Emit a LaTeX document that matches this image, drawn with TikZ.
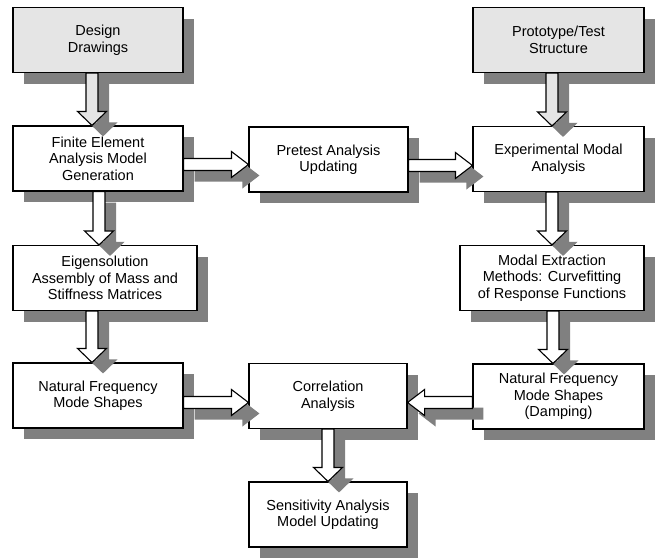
\documentclass[tikz,border=0pt]{standalone}
\usepackage{fontspec}
\setmainfont{Liberation Sans}
\usepackage{tikz}
\usetikzlibrary{calc, shadows}
\definecolor{shade}{gray}{0.5}
\definecolor{paper}{gray}{0.9}
\tikzstyle{block}=[draw, line width=1.1pt, fill=white, inner sep=0pt, minimum height=65pt, align=center, font=\fontsize{14.5}{16.5}\selectfont, drop shadow={shadow xshift=11pt, shadow yshift=-11pt, opacity=1, fill=shade}]
\tikzstyle{inblock}=[block, fill=paper]
\tikzstyle{flow}=[draw, line width=1.1pt, fill=white, drop shadow={shadow xshift=11pt, shadow yshift=-11pt, opacity=1, fill=shade}]
% block arrows between named boxes
\newcommand{\vflow}[4][white]{%
	\path[flow, fill=#1] let \p1=($(#3.north)+(#4,0)$), \p2=(#2.south) in
		(\x1-6pt,\y2) -- (\x1+6pt,\y2) -- (\x1+6pt,\y1+14pt) -- (\x1+14.5pt,\y1+14pt)
		-- (\x1,\y1) -- (\x1-14.5pt,\y1+14pt) -- (\x1-6pt,\y1+14pt) -- cycle;}
\newcommand{\rflow}[3]{%
	\path[flow] let \p1=($(#1.east)+(0,#3)$), \p2=(#2.west) in
		(\x1,\y1+6pt) -- (\x2-17pt,\y1+6pt) -- (\x2-17pt,\y1+13pt) -- (\x2,\y1)
		-- (\x2-17pt,\y1-13pt) -- (\x2-17pt,\y1-6pt) -- (\x1,\y1-6pt) -- cycle;}
\newcommand{\lflow}[3]{%
	\path[flow] let \p1=($(#1.west)+(0,#3)$), \p2=(#2.east) in
		(\x1,\y1+6pt) -- (\x2+17pt,\y1+6pt) -- (\x2+17pt,\y1+13pt) -- (\x2,\y1)
		-- (\x2+17pt,\y1-13pt) -- (\x2+17pt,\y1-6pt) -- (\x1,\y1-6pt) -- cycle;}

\begin{document}
\begin{tikzpicture}[x=1pt, y=1pt]
		\useasboundingbox (0,0) rectangle (656,-557);
		\node[inblock, minimum width=170pt] (design) at (98,-40) {Design\\Drawings};
		\node[inblock, minimum width=171pt] (proto) at (558.5,-40) {Prototype/Test\\Structure};
		\foreach \nm/\x/\y/\w/\txt in {
				fem/98/158.5/170/{Finite Element\\Analysis Model\\Generation},
				eigen/105/278/184/{Eigensolution\\Assembly of Mass and\\Stiffness Matrices},
				natfreq/98/395.5/170/{Natural Frequency\\Mode Shapes},
				pretest/328.5/159.5/159/{Pretest Analysis\\Updating},
				correl/328/396/158/{Correlation\\Analysis},
				sensit/328/514.5/158/{Sensitivity Analysis\\Model Updating},
				expmodal/558.5/159/171/{Experimental Modal\\Analysis},
				extract/552/278/184/{Modal Extraction\\Methods: Curvefitting\\of Response Functions},
				natdamp/558.5/396.5/171/{Natural Frequency\\Mode Shapes\\(Damping)}}
			\node[block, minimum width=\w pt] (\nm) at (\x,-\y) {\txt};
		\vflow[paper]{design}{fem}{-6}
		\vflow{fem}{eigen}{-6}
		\vflow{eigen}{natfreq}{-6}
		\vflow[paper]{proto}{expmodal}{-6.5}
		\vflow{expmodal}{extract}{0}
		\vflow{extract}{natdamp}{-5.5}
		\vflow{correl}{sensit}{0}
		\rflow{fem}{pretest}{-6}
		\rflow{pretest}{expmodal}{-6}
		\rflow{natfreq}{correl}{-7}
		\lflow{natdamp}{correl}{-6}
	\end{tikzpicture}
\end{document}
